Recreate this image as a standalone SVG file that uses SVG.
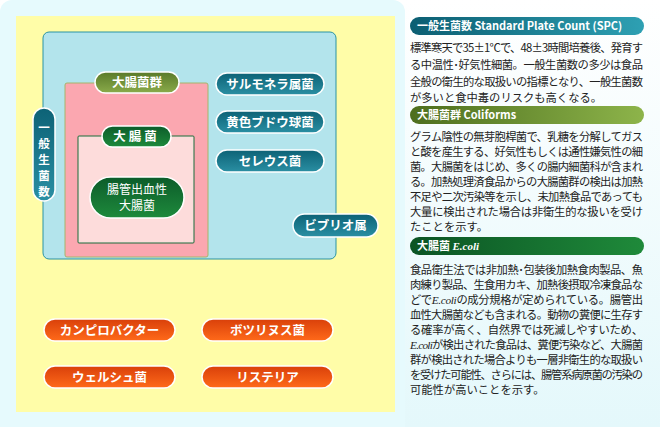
<svg xmlns="http://www.w3.org/2000/svg" width="660" height="427" viewBox="0 0 660 427">
<defs>
<linearGradient id="bg" x1="0" y1="0" x2="0" y2="1"><stop offset="0" stop-color="#ffffff"/><stop offset="1" stop-color="#e4f8fb"/></linearGradient>
<linearGradient id="teal" x1="0" y1="0" x2="0" y2="1"><stop offset="0" stop-color="#0d6276"/><stop offset="1" stop-color="#2a8fa3"/></linearGradient>
<linearGradient id="olive" x1="0" y1="0" x2="0" y2="1"><stop offset="0" stop-color="#5a7a2a"/><stop offset="1" stop-color="#8aab4a"/></linearGradient>
<linearGradient id="green" x1="0" y1="0" x2="0" y2="1"><stop offset="0" stop-color="#0c5c2a"/><stop offset="1" stop-color="#1e8a3c"/></linearGradient>
<linearGradient id="orange" x1="0" y1="0" x2="0" y2="1"><stop offset="0" stop-color="#d9400a"/><stop offset="1" stop-color="#ff6a1a"/></linearGradient>
<linearGradient id="hteal" x1="0" y1="0" x2="1" y2="0"><stop offset="0" stop-color="#0b5e72"/><stop offset="1" stop-color="#2ea0b3"/></linearGradient>
<linearGradient id="holive" x1="0" y1="0" x2="1" y2="0"><stop offset="0" stop-color="#4d6e1e"/><stop offset="1" stop-color="#8db44a"/></linearGradient>
<linearGradient id="hgreen" x1="0" y1="0" x2="1" y2="0"><stop offset="0" stop-color="#0b5424"/><stop offset="1" stop-color="#1f8a3a"/></linearGradient>
<style>
.pl{font-family:"Noto Sans CJK JP",sans-serif;font-weight:bold;fill:#fff;font-size:12.5px;text-anchor:middle}
.vt{font-size:11.5px}
.hd{font-family:"Noto Sans CJK JP",sans-serif;font-weight:bold;fill:#fff;font-size:11px}
.bd{font-family:"Noto Sans CJK JP",sans-serif;fill:#222;font-size:11.3px}
.it{font-family:"Liberation Serif",serif;font-style:italic}
.pill{stroke:#fff;stroke-width:1.5}
</style>
</defs>
<rect width="660" height="427" fill="url(#bg)"/>
<rect x="0" y="0" width="405" height="440" rx="12" fill="#e6fafd"/>
<rect x="16" y="16" width="379" height="396" fill="#fffda8"/>
<g id="spc-box"><rect x="43" y="32" width="293" height="227" rx="6" fill="#b3e4ec" stroke="#2a93a3"/></g>
<g id="coliform-box"><rect x="65" y="83" width="143" height="174" rx="2" fill="#fba7b0" stroke="#a6b46a"/></g>
<g id="ecoli-box"><rect x="78" y="136" width="116" height="107" rx="1" fill="#fddcdb" stroke="#1b6c3a"/></g>
<g id="n-spc"><rect class="pill" x="33" y="108" width="22" height="93" rx="11" fill="url(#teal)"/><text class="pl vt" x="44" y="132">一</text><text class="pl vt" x="44" y="148">般</text><text class="pl vt" x="44" y="164">生</text><text class="pl vt" x="44" y="180">菌</text><text class="pl vt" x="44" y="196">数</text></g>
<g id="n-coliform"><rect class="pill" x="95" y="72" width="84" height="21" rx="10.5" fill="url(#olive)"/><text class="pl" x="137" y="87">大腸菌群</text></g>
<g id="n-ecoli"><rect class="pill" x="102" y="126" width="69" height="21" rx="10.5" fill="url(#green)"/><text class="pl" x="136.5" y="141" letter-spacing="3">大腸菌</text></g>
<g id="n-ehec"><rect class="pill" x="90" y="177" width="94" height="41" rx="20.5" fill="url(#green)"/><text class="pl" x="137" y="194" style="font-weight:normal;font-size:12px">腸管出血性</text><text class="pl" x="137" y="210" style="font-weight:normal;font-size:12px">大腸菌</text></g>
<g id="n-salmonella"><rect class="pill" x="216" y="73" width="108" height="22" rx="11" fill="url(#teal)"/><text class="pl" x="270" y="89">サルモネラ属菌</text></g>
<g id="n-staph"><rect class="pill" x="216" y="111" width="108" height="22" rx="11" fill="url(#teal)"/><text class="pl" x="270" y="127">黄色ブドウ球菌</text></g>
<g id="n-cereus"><rect class="pill" x="216" y="150" width="108" height="22" rx="11" fill="url(#teal)"/><text class="pl" x="270" y="166">セレウス菌</text></g>
<g id="n-vibrio"><rect class="pill" x="293" y="214" width="85" height="23" rx="11.5" fill="url(#teal)"/><text class="pl" x="335.5" y="230">ビブリオ属</text></g>
<g id="n-campylo"><rect class="pill" x="44" y="319" width="131" height="22" rx="11" fill="url(#orange)"/><text class="pl" x="109.5" y="335">カンピロバクター</text></g>
<g id="n-botulinum"><rect class="pill" x="202" y="319" width="131" height="22" rx="11" fill="url(#orange)"/><text class="pl" x="267.5" y="335">ボツリヌス菌</text></g>
<g id="n-perfringens"><rect class="pill" x="44" y="366" width="131" height="22" rx="11" fill="url(#orange)"/><text class="pl" x="109.5" y="382">ウェルシュ菌</text></g>
<g id="n-listeria"><rect class="pill" x="202" y="366" width="131" height="22" rx="11" fill="url(#orange)"/><text class="pl" x="267.5" y="382">リステリア</text></g>
<g id="connectors"/>
<g id="legend-spc">
<rect x="410" y="17" width="234" height="18" rx="9" fill="url(#hteal)"/>
<text class="hd" x="417" y="30">一般生菌数 Standard Plate Count (SPC)</text>
<text class="bd" x="410" y="52" textLength="233">標準寒天で35±1℃で、48±3時間培養後、発育す</text>
<text class="bd" x="410" y="69" textLength="233">る中温性･好気性細菌。一般生菌数の多少は食品</text>
<text class="bd" x="410" y="86" textLength="233">全般の衛生的な取扱いの指標となり、一般生菌数</text>
<text class="bd" x="410" y="102">が多いと食中毒のリスクも高くなる。</text>
</g>
<g id="legend-coliform">
<rect x="410" y="106" width="234" height="18" rx="9" fill="url(#holive)"/>
<text class="hd" x="417" y="119">大腸菌群 Coliforms</text>
<text class="bd" x="410" y="141" textLength="233">グラム陰性の無芽胞桿菌で、乳糖を分解してガス</text>
<text class="bd" x="410" y="156" textLength="233">と酸を産生する、好気性もしくは通性嫌気性の細</text>
<text class="bd" x="410" y="171" textLength="233">菌。大腸菌をはじめ、多くの腸内細菌科が含まれ</text>
<text class="bd" x="410" y="186" textLength="233">る。加熱処理済食品からの大腸菌群の検出は加熱</text>
<text class="bd" x="410" y="201" textLength="233">不足や二次汚染等を示し、未加熱食品であっても</text>
<text class="bd" x="410" y="216" textLength="233">大量に検出された場合は非衛生的な扱いを受け</text>
<text class="bd" x="410" y="231">たことを示す。</text>
</g>
<g id="legend-ecoli">
<rect x="410" y="237" width="234" height="18" rx="9" fill="url(#hgreen)"/>
<text class="hd" x="417" y="250">大腸菌 <tspan class="it" font-weight="bold">E.coli</tspan></text>
<text class="bd" x="410" y="274" textLength="233">食品衛生法では非加熱･包装後加熱食肉製品、魚</text>
<text class="bd" x="410" y="289" textLength="233">肉練り製品、生食用カキ、加熱後摂取冷凍食品な</text>
<text class="bd" x="410" y="304" textLength="233">どで<tspan class="it">E.coli</tspan>の成分規格が定められている。腸管出</text>
<text class="bd" x="410" y="319" textLength="233">血性大腸菌なども含まれる。動物の糞便に生存す</text>
<text class="bd" x="410" y="334" textLength="233">る確率が高く、自然界では死滅しやすいため、</text>
<text class="bd" x="410" y="349" textLength="233"><tspan class="it">E.coli</tspan>が検出された食品は、糞便汚染など、大腸菌</text>
<text class="bd" x="410" y="364" textLength="233">群が検出された場合よりも一層非衛生的な取扱い</text>
<text class="bd" x="410" y="379" textLength="233">を受けた可能性、さらには、腸管系病原菌の汚染の</text>
<text class="bd" x="410" y="394">可能性が高いことを示す。</text>
</g>
</svg>
